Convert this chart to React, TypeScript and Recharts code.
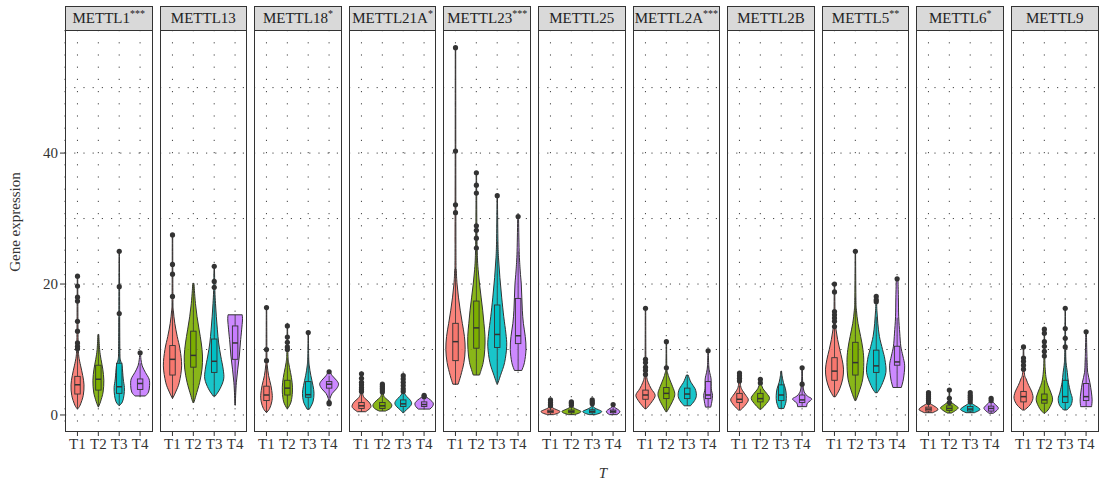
import { ComposedChart, Bar, XAxis, YAxis, CartesianGrid } from 'recharts';

const genes = ['METTL1', 'METTL13', 'METTL18', 'METTL21A', 'METTL23', 'METTL25', 'METTL2A', 'METTL2B', 'METTL5', 'METTL6', 'METTL9'];
const stars = ['***', '', '*', '*', '***', '', '***', '', '**', '*', ''];
const groups = ['T1', 'T2', 'T3', 'T4'];
const groupColors = ['#F8766D', '#7CAE00', '#00BFC4', '#C77CFF'];
const yTicks = [0, 20, 40];
const gridValues = [0, 10, 20, 30, 40, 50];

// [q1, median, q3] for each gene / group
const boxes = [
  [[3.2, 4.6, 5.9], [3.8, 5.45, 7.6], [3.3, 4.3, 7.9], [3.9, 4.8, 5.5]],
  [[6.1, 8.5, 10.6], [7.3, 9.1, 12.8], [6.5, 8.2, 11.6], [8.5, 11.0, 13.6]],
  [[2.2, 3.05, 4.4], [3.05, 4.1, 5.3], [2.7, 3.1, 5.1], [4.1, 4.7, 5.1]],
  [[1.0, 1.4, 1.9], [1.0, 1.4, 1.9], [1.3, 1.7, 2.3], [1.3, 1.6, 2.0]],
  [[8.3, 11.2, 14.0], [10.2, 13.3, 17.4], [10.3, 12.3, 16.8], [10.9, 12.1, 17.8]],
  [[0.35, 0.55, 0.75], [0.35, 0.55, 0.75], [0.35, 0.55, 0.8], [0.35, 0.55, 0.75]],
  [[2.4, 3.05, 3.8], [2.5, 3.3, 4.2], [2.5, 3.2, 4.1], [2.5, 3.05, 5.1]],
  [[1.9, 2.4, 3.3], [2.0, 2.5, 3.3], [2.2, 3.05, 4.6], [1.9, 2.3, 3.05]],
  [[5.3, 6.7, 8.75], [6.1, 8.0, 11.1], [6.5, 7.5, 9.9], [7.6, 8.1, 10.5]],
  [[0.6, 0.9, 1.2], [0.7, 1.0, 1.4], [0.6, 0.9, 1.3], [0.6, 1.0, 1.35]],
  [[2.0, 2.8, 3.6], [1.8, 2.3, 3.2], [1.9, 2.8, 5.3], [2.2, 2.8, 4.8]],
];

// violin outline: [value, width as share of the category band]
const shapes = [
  [
    [[0.9, 0], [1.5, 0.25], [3, 0.55], [4.6, 0.62], [6, 0.5], [7.5, 0.3], [9, 0.12], [11, 0.06], [15, 0.04], [21.2, 0.02]],
    [[1.2, 0], [2, 0.2], [3.5, 0.45], [5.3, 0.52], [7, 0.42], [8.5, 0.25], [10, 0.12], [12.3, 0.04]],
    [[1.4, 0], [2, 0.3], [3, 0.45], [4.2, 0.49], [5.5, 0.38], [7.5, 0.27], [8.5, 0.1], [10, 0.06], [15, 0.04], [25, 0.02]],
    [[2.9, 0.5], [3.5, 0.8], [4.5, 0.9], [5.5, 0.85], [6.5, 0.5], [7.5, 0.2], [8.5, 0.08], [9.5, 0.04]],
  ],
  [
    [[2.5, 0], [3.5, 0.3], [5, 0.65], [7.5, 0.87], [10, 0.72], [12, 0.45], [14, 0.22], [16, 0.08], [18, 0.04], [27.5, 0.02]],
    [[1.9, 0.05], [3, 0.25], [5, 0.6], [7, 0.82], [9, 0.87], [11, 0.75], [13, 0.55], [15, 0.35], [17, 0.2], [19, 0.1], [20.1, 0.06]],
    [[2.9, 0.1], [4, 0.55], [5.5, 0.9], [7, 0.85], [9, 0.62], [11, 0.42], [13, 0.3], [15, 0.2], [17, 0.12], [19, 0.06], [22.7, 0.02]],
    [[1.5, 0.02], [3, 0.05], [5, 0.12], [7, 0.25], [9, 0.4], [11, 0.5], [13, 0.62], [14.5, 0.7], [15.3, 0.68]],
  ],
  [
    [[0.35, 0], [1, 0.3], [2, 0.5], [3, 0.55], [4.5, 0.42], [6, 0.2], [7.5, 0.08], [9, 0.04], [16.4, 0.02]],
    [[1, 0.05], [2, 0.35], [3.5, 0.48], [5, 0.45], [6.5, 0.3], [8, 0.12], [9.5, 0.05], [13.6, 0.02]],
    [[0.87, 0.1], [2, 0.45], [3.3, 0.55], [4.5, 0.45], [6, 0.25], [7.5, 0.1], [9, 0.04], [12.6, 0.02]],
    [[1.7, 0.05], [2.5, 0.08], [3.3, 0.3], [4, 0.7], [4.7, 0.9], [5.3, 0.7], [6, 0.3], [6.6, 0.1]],
  ],
  [
    [[0.5, 0.4], [1, 0.8], [1.4, 0.9], [2, 0.7], [2.5, 0.35], [3, 0.15], [4, 0.06], [6.3, 0.03]],
    [[0.6, 0.3], [1, 0.75], [1.5, 0.9], [2, 0.7], [2.5, 0.35], [3, 0.12], [4.7, 0.03]],
    [[0.35, 0.05], [0.8, 0.3], [1.3, 0.65], [1.8, 0.8], [2.3, 0.65], [2.8, 0.35], [3.3, 0.12], [4, 0.05], [6, 0.02]],
    [[0.9, 0.55], [1.3, 0.8], [1.8, 0.87], [2.3, 0.6], [2.7, 0.25], [3.0, 0.05]],
  ],
  [
    [[4.7, 0.25], [6, 0.5], [8, 0.8], [10, 0.92], [12, 0.85], [14, 0.65], [16, 0.45], [18, 0.28], [20, 0.15], [22, 0.08], [26, 0.04], [56.1, 0.02]],
    [[6.1, 0.3], [8, 0.65], [10, 0.8], [12, 0.82], [14, 0.72], [16, 0.6], [18, 0.45], [20, 0.3], [22, 0.18], [24, 0.1], [28, 0.05], [37, 0.02]],
    [[4.8, 0.05], [6, 0.3], [8, 0.7], [10.5, 0.9], [12.5, 0.82], [15, 0.62], [18, 0.42], [21, 0.25], [24, 0.12], [27, 0.06], [33.5, 0.02]],
    [[6.8, 0.35], [8, 0.6], [10, 0.75], [12, 0.68], [14, 0.5], [16, 0.4], [18, 0.35], [20, 0.3], [22, 0.2], [25, 0.1], [30.3, 0.04]],
  ],
  [
    [[0.05, 0.3], [0.3, 0.75], [0.55, 0.9], [0.8, 0.6], [1.1, 0.2], [1.5, 0.06], [2.3, 0.03]],
    [[0.05, 0.3], [0.3, 0.75], [0.55, 0.9], [0.8, 0.6], [1.1, 0.2], [1.4, 0.06], [2.0, 0.03]],
    [[0.05, 0.3], [0.3, 0.75], [0.55, 0.9], [0.8, 0.6], [1.1, 0.2], [1.5, 0.06], [2.3, 0.03]],
    [[0.05, 0.35], [0.35, 0.6], [0.6, 0.63], [0.9, 0.4], [1.2, 0.12], [1.6, 0.04]],
  ],
  [
    [[1, 0.1], [2, 0.6], [3, 0.92], [4, 0.55], [5, 0.25], [6, 0.1], [8, 0.04], [16.3, 0.02]],
    [[0.5, 0.05], [1.5, 0.4], [2.5, 0.7], [3.3, 0.8], [4.3, 0.6], [5.5, 0.3], [6.5, 0.1], [7.5, 0.04], [11.2, 0.02]],
    [[1.4, 0.3], [2.2, 0.7], [3, 0.87], [4, 0.75], [5, 0.35], [6.1, 0.08]],
    [[1.2, 0.25], [2, 0.35], [3, 0.42], [4, 0.3], [5.5, 0.28], [6.5, 0.15], [7.5, 0.06], [9.8, 0.02]],
  ],
  [
    [[0.75, 0.1], [1.5, 0.55], [2.3, 0.84], [3, 0.6], [3.7, 0.3], [4.5, 0.1], [6.4, 0.03]],
    [[0.87, 0.05], [1.5, 0.45], [2.5, 0.87], [3.3, 0.6], [4, 0.25], [4.9, 0.06], [5.45, 0.03]],
    [[1, 0.25], [2, 0.45], [3, 0.48], [4, 0.4], [5, 0.2], [6, 0.08], [6.7, 0.03]],
    [[1.27, 0.43], [1.8, 0.5], [2.2, 0.8], [2.5, 0.9], [2.9, 0.5], [3.5, 0.2], [4.5, 0.08], [5.5, 0.04], [7.2, 0.02]],
  ],
  [
    [[2.8, 0.1], [4, 0.5], [5.5, 0.78], [7, 0.86], [8.5, 0.72], [10, 0.5], [11.5, 0.3], [13, 0.15], [14.5, 0.06], [20, 0.02]],
    [[2.2, 0.05], [3.5, 0.35], [5.5, 0.7], [8, 0.8], [10, 0.72], [12, 0.5], [14, 0.25], [16, 0.1], [18, 0.05], [25, 0.02]],
    [[3.4, 0.1], [4.5, 0.5], [6.5, 0.92], [8.5, 0.82], [10, 0.6], [12, 0.3], [14, 0.15], [16, 0.06], [18.1, 0.02]],
    [[4.2, 0.4], [5.5, 0.6], [7.5, 0.72], [9, 0.55], [10.5, 0.35], [12.5, 0.25], [15, 0.15], [18, 0.12], [20.8, 0.08]],
  ],
  [
    [[0.35, 0.4], [0.8, 0.9], [1.2, 0.7], [1.6, 0.3], [2, 0.1], [3.4, 0.03]],
    [[0.3, 0.2], [0.7, 0.6], [1.1, 0.84], [1.5, 0.55], [2, 0.15], [2.5, 0.05], [3.8, 0.02]],
    [[0.35, 0.4], [0.8, 0.92], [1.2, 0.7], [1.6, 0.3], [2, 0.1], [3.4, 0.03]],
    [[0.26, 0.2], [0.7, 0.55], [1.1, 0.68], [1.6, 0.4], [2, 0.15], [2.55, 0.03]],
  ],
  [
    [[0.76, 0.1], [1.5, 0.6], [2.5, 0.9], [3.5, 0.8], [4.5, 0.5], [5.5, 0.25], [6.5, 0.08], [10.4, 0.02]],
    [[0.26, 0.05], [1, 0.45], [2.3, 0.78], [3.5, 0.6], [4.5, 0.35], [5.5, 0.18], [7, 0.08], [9, 0.04], [13.1, 0.02]],
    [[0.76, 0.15], [1.5, 0.55], [2.5, 0.67], [3.5, 0.5], [5, 0.3], [6.5, 0.2], [8, 0.08], [10, 0.04], [16.3, 0.02]],
    [[1.27, 0.52], [2.3, 0.57], [3.5, 0.5], [5, 0.35], [6.5, 0.15], [8, 0.1], [10, 0.06], [12.7, 0.03]],
  ],
];

// boxplot outliers
const outliers = [
  [[21.2, 19.7, 18.0, 17.4, 14.3, 12.8, 11.0, 10.5, 10.1], [], [25.0, 19.6, 15.5], [9.5]],
  [[27.5, 23.0, 21.5, 18.1], [], [22.7, 20.4, 19.5], []],
  [[16.4, 10.0, 8.3], [13.6, 11.9, 11.1, 10.4, 10.0], [12.6], [6.6, 1.9, 1.7]],
  [[6.3, 5.6, 5.0, 4.6, 4.2, 3.9, 3.6], [4.7, 4.4, 4.1, 3.8, 3.5], [6.0, 5.5, 5.0, 4.5, 4.0, 3.6], [3.0, 2.8]],
  [[56.1, 40.3, 32.1, 30.9], [37.0, 35.1, 33.9, 28.9, 28.2, 27.0, 25.5], [33.5], [30.3]],
  [[2.3, 1.9, 1.6, 1.4], [2.0, 1.8, 1.5], [2.3, 2.0, 1.7], [1.6]],
  [[16.3, 8.5, 8.0, 7.3, 6.8, 6.2], [11.2, 7.2], [], [9.8]],
  [[6.4, 6.0, 5.6, 5.2], [5.45, 4.9], [], [7.2, 4.7]],
  [[20.0, 18.8, 15.8, 15.3, 14.8, 14.3, 13.5], [25.0], [18.1, 17.6, 17.3], [20.8]],
  [[3.4, 3.1, 2.8, 2.5, 2.2, 1.9], [3.8, 2.55, 1.9], [3.4, 3.0, 2.7, 2.4, 2.0], [2.55, 2.2]],
  [[10.4, 8.7, 8.2, 7.6, 7.0], [13.1, 12.5, 11.2, 10.5, 9.7, 9.0], [16.3, 13.2, 11.7, 10.4], [12.7]],
];

const INK = '#333333';
const FONT = "'Liberation Serif', 'DejaVu Serif', serif";
const LEFT0 = 65;
const STEP = 94.6;
const PW = 87.5;
const PLOT_TOP = 30;
const PLOT_H = 402;
const AXIS_W = 50;

function curve(pts: number[][]) {
  let d = '';
  for (let i = 0; i < pts.length - 1; i++) {
    const p0 = pts[Math.max(i - 1, 0)];
    const p1 = pts[i];
    const p2 = pts[i + 1];
    const p3 = pts[Math.min(i + 2, pts.length - 1)];
    const c1x = p1[0] + (p2[0] - p0[0]) / 6;
    const c1y = p1[1] + (p2[1] - p0[1]) / 6;
    const c2x = p2[0] - (p3[0] - p1[0]) / 6;
    const c2y = p2[1] - (p3[1] - p1[1]) / 6;
    d += ` C${c1x},${c1y} ${c2x},${c2y} ${p2[0]},${p2[1]}`;
  }
  return d;
}

function Violin(props: any) {
  const { x, y, width, height, payload } = props;
  if (!payload) return null;
  const [lo, hi] = payload.range;
  const top = Math.min(y, y + height);
  const bot = Math.max(y, y + height);
  const Y = (v: number) => bot - ((v - lo) / (hi - lo)) * (bot - top);
  const cx = x + width / 2;
  const half = width / 2;
  const right = payload.shape.map(([v, w]: number[]) => [cx + w * half, Y(v)]);
  const left = payload.shape.map(([v, w]: number[]) => [cx - w * half, Y(v)]).reverse();
  const d =
    `M${left[left.length - 1][0]},${left[left.length - 1][1]} L${right[0][0]},${right[0][1]}` +
    curve(right) +
    ` L${left[0][0]},${left[0][1]}` +
    curve(left) +
    ' Z';
  const [q1, med, q3] = payload.box;
  const iqr = q3 - q1;
  const wHi = Math.min(q3 + 1.5 * iqr, payload.whiskerTop);
  const wLo = Math.max(q1 - 1.5 * iqr, lo);
  const bw = width * 0.13;
  return (
    <g>
      <path d={d} fill={payload.color} fillOpacity={0.9} stroke={INK} strokeWidth={1} />
      <line x1={cx} x2={cx} y1={Y(wLo)} y2={Y(q1)} stroke={INK} strokeWidth={0.8} />
      <line x1={cx} x2={cx} y1={Y(q3)} y2={Y(wHi)} stroke={INK} strokeWidth={0.8} />
      <rect x={cx - bw} y={Y(q3)} width={bw * 2} height={Y(q1) - Y(q3)} fill={payload.color} stroke={INK} strokeWidth={0.9} />
      <line x1={cx - bw} x2={cx + bw} y1={Y(med)} y2={Y(med)} stroke={INK} strokeWidth={1.5} />
      {payload.out.map((v: number, k: number) => (
        <circle key={k} cx={cx} cy={Y(v)} r={2.6} fill={INK} />
      ))}
    </g>
  );
}

function Panel({ gi }: { gi: number }) {
  const first = gi === 0;
  const data = groups.map((t, j) => {
    const shape = shapes[gi][j];
    const out = outliers[gi][j];
    const below = shape.map((p) => p[0]).filter((v) => !out.includes(v));
    return {
      t,
      range: [shape[0][0], shape[shape.length - 1][0]],
      shape,
      box: boxes[gi][j],
      out,
      whiskerTop: Math.max(...below, boxes[gi][j][2]),
      color: groupColors[j],
    };
  });
  const left = LEFT0 + gi * STEP;
  return (
    <>
      <div
        style={{
          position: 'absolute',
          left: left - (first ? AXIS_W : 0),
          top: PLOT_TOP,
        }}
      >
        <ComposedChart
          width={PW + (first ? AXIS_W : 0)}
          height={PLOT_H + 30}
          data={data}
          margin={{ top: 0, right: 0, bottom: 0, left: 0 }}
          barCategoryGap={0}
          barGap={0}
        >
          <CartesianGrid vertical={false} horizontalValues={gridValues} stroke="#444" strokeDasharray="1.2 8" />
          <CartesianGrid horizontal={false} stroke="#444" strokeDasharray="1.2 11" />
          <XAxis
            dataKey="t"
            type="category"
            interval={0}
            padding={{ left: 2, right: 2 }}
            axisLine={false}
            tickLine={{ stroke: INK }}
            tickSize={4}
            height={30}
            tick={{ fill: INK, fontSize: 15 }}
          />
          <YAxis
            type="number"
            domain={[-2.6, 58.8]}
            allowDataOverflow
            ticks={yTicks}
            hide={!first}
            width={AXIS_W}
            axisLine={false}
            tickLine={{ stroke: INK }}
            tickSize={5}
            tick={{ fill: INK, fontSize: 15 }}
          />
          <Bar dataKey="range" shape={(p: any) => <Violin {...p} />} isAnimationActive={false} />
        </ComposedChart>
      </div>
      <div
        style={{
          position: 'absolute',
          left,
          top: PLOT_TOP,
          width: PW,
          height: PLOT_H,
          border: `1.3px solid ${INK}`,
          boxSizing: 'border-box',
          pointerEvents: 'none',
        }}
      />
      <div
        style={{
          position: 'absolute',
          left,
          top: 6,
          width: PW,
          height: 25,
          background: '#d9d9d9',
          border: `1.3px solid ${INK}`,
          boxSizing: 'border-box',
          textAlign: 'center',
          fontSize: 15,
          lineHeight: '22px',
          color: '#222',
          whiteSpace: 'nowrap',
        }}
      >
        {genes[gi]}
        {stars[gi] && <sup style={{ fontSize: 10, verticalAlign: 'top', lineHeight: '14px' }}>{stars[gi]}</sup>}
      </div>
    </>
  );
}

export default function App() {
  return (
    <div
      style={{
        position: 'absolute',
        left: 0,
        top: 0,
        width: 1102,
        height: 485,
        background: '#fff',
        fontFamily: FONT,
        color: INK,
      }}
    >
      {genes.map((g, i) => (
        <Panel key={g} gi={i} />
      ))}
      <div
        style={{
          position: 'absolute',
          left: 17 - 60,
          top: 222 - 10,
          width: 120,
          height: 20,
          textAlign: 'center',
          fontSize: 15,
          transform: 'rotate(-90deg)',
          whiteSpace: 'nowrap',
        }}
      >
        Gene expression
      </div>
      <div
        style={{
          position: 'absolute',
          left: 603 - 10,
          top: 465,
          width: 20,
          textAlign: 'center',
          fontSize: 15,
          fontStyle: 'italic',
        }}
      >
        T
      </div>
    </div>
  );
}
